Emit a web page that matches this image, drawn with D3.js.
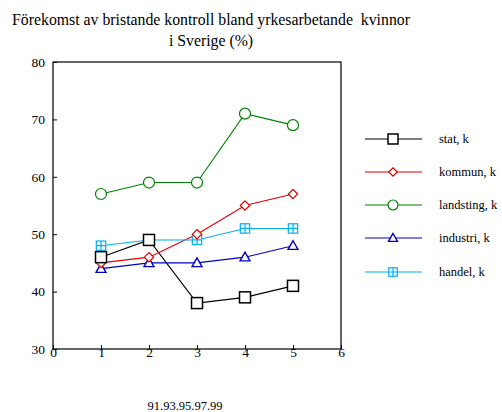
<!DOCTYPE html>
<html>
<head>
<meta charset="utf-8">
<script src="https://cdn.jsdelivr.net/npm/d3@7"></script>
<style>
  body { margin: 0; background: #fff; }
</style>
</head>
<body>
<div id="graph"></div>
<script>
// Data
var years = [1, 2, 3, 4, 5];
var stat = [46, 49, 38, 39, 41];
var kommun = [45, 46, 50, 55, 57];
var landsting = [57, 59, 59, 71, 69];
var industri = [44, 45, 45, 46, 48];
var handel = [48, 49, 49, 51, 51];
var seriesNames = ["stat, k", "kommun, k", "landsting, k", "industri, k", "handel, k"];
var xTicks = [0, 1, 2, 3, 4, 5, 6];
var yTicks = [30, 40, 50, 60, 70, 80];

var colors = ["#000000", "#e00000", "#008000", "#0000c0", "#00b0f0"];
var shapes = ["square", "diamond", "circle", "triangle", "boxplus"];
var allSeries = [stat, kommun, landsting, industri, handel];

var FONT = "Liberation Serif";
var width = 502, height = 412;
var plot = { left: 53, right: 341, top: 62, bottom: 349 };

var svg = d3.select("#graph").append("svg")
    .attr("width", width)
    .attr("height", height)
    .attr("font-family", FONT);

// Title
svg.append("text").attr("x", 211).attr("y", 25).attr("text-anchor", "middle")
   .attr("font-family", FONT).attr("font-size", 15.8)
   .style("white-space", "pre")
   .text("Förekomst av bristande kontroll bland yrkesarbetande  kvinnor");
svg.append("text").attr("x", 211).attr("y", 46).attr("text-anchor", "middle")
   .attr("font-family", FONT).attr("font-size", 15.8).text("i Sverige (%)");

var x = d3.scaleLinear().domain([0, 6]).range([plot.left, plot.right]);
var y = d3.scaleLinear().domain([30, 80]).range([plot.bottom, plot.top]);

// Frame
svg.append("rect")
   .attr("x", plot.left).attr("y", plot.top)
   .attr("width", plot.right - plot.left).attr("height", plot.bottom - plot.top)
   .attr("fill", "none").attr("stroke", "#000").attr("stroke-width", 1.2);

// Axes (ticks pointing inward)
var xAxis = svg.append("g")
   .attr("transform", "translate(0," + plot.bottom + ")")
   .call(d3.axisBottom(x).tickValues(xTicks).tickSize(-4).tickPadding(3).tickFormat(d3.format("d")));
var yAxis = svg.append("g")
   .attr("transform", "translate(" + plot.left + ",0)")
   .call(d3.axisLeft(y).tickValues(yTicks).tickSize(-4).tickPadding(8).tickFormat(d3.format("d")));

[xAxis, yAxis].forEach(function(ax) {
    ax.attr("font-family", FONT);
    ax.select(".domain").remove();
    ax.selectAll("text").attr("font-family", FONT)
      .attr("font-size", 13.5).attr("fill", "#000");
    ax.selectAll("line").attr("stroke", "#000");
});
xAxis.selectAll("text").attr("dy", "0.35em");

function drawMarker(g, shape, cx, cy, color, s) {
    if (shape === "square") {
        g.append("rect").attr("x", cx - s).attr("y", cy - s).attr("width", 2 * s).attr("height", 2 * s)
         .attr("fill", "#fff").attr("stroke", color).attr("stroke-width", 1.5);
    } else if (shape === "diamond") {
        var d = s * 0.85;
        g.append("path").attr("d", "M" + cx + "," + (cy - d) + "L" + (cx + d) + "," + cy + "L" + cx + "," + (cy + d) + "L" + (cx - d) + "," + cy + "Z")
         .attr("fill", "#fff").attr("stroke", color).attr("stroke-width", 1.2);
    } else if (shape === "circle") {
        g.append("circle").attr("cx", cx).attr("cy", cy).attr("r", s)
         .attr("fill", "#fff").attr("stroke", color).attr("stroke-width", 1.2);
    } else if (shape === "triangle") {
        var t = s * 0.9;
        g.append("path").attr("d", "M" + cx + "," + (cy - t) + "L" + (cx + t) + "," + (cy + t * 0.75) + "L" + (cx - t) + "," + (cy + t * 0.75) + "Z")
         .attr("fill", "#fff").attr("stroke", color).attr("stroke-width", 1.4);
    } else if (shape === "boxplus") {
        var b = s * 0.85;
        g.append("rect").attr("x", cx - b).attr("y", cy - b).attr("width", 2 * b).attr("height", 2 * b)
         .attr("fill", "#fff").attr("stroke", color).attr("stroke-width", 1.2);
        g.append("path").attr("d", "M" + (cx - b) + "," + cy + "H" + (cx + b) + "M" + cx + "," + (cy - b) + "V" + (cy + b))
         .attr("stroke", color).attr("stroke-width", 1.2);
    }
}

var line = d3.line()
    .x(function(d, i) { return x(years[i]); })
    .y(function(d) { return y(d); });

// Lines first, then markers on top (first series drawn last so it sits on top)
allSeries.forEach(function(values, k) {
    svg.append("path")
       .datum(values)
       .attr("fill", "none")
       .attr("stroke", colors[k])
       .attr("stroke-width", 1.1)
       .attr("d", line);
});
for (var k = allSeries.length - 1; k >= 0; k--) {
    var g = svg.append("g");
    allSeries[k].forEach(function(v, i) {
        drawMarker(g, shapes[k], x(years[i]), y(v), colors[k], 5.5);
    });
}

// Legend
var legendY = [139, 172, 205, 238, 272];
seriesNames.forEach(function(name, k) {
    var g = svg.append("g");
    g.append("line").attr("x1", 365).attr("x2", 422).attr("y1", legendY[k]).attr("y2", legendY[k])
     .attr("stroke", colors[k]).attr("stroke-width", 1.1);
    drawMarker(g, shapes[k], 393, legendY[k], colors[k], 5);
    g.append("text").attr("x", 439).attr("y", legendY[k]).attr("dy", "0.35em")
     .attr("font-family", FONT).attr("font-size", 12.5).text(name);
});

// Footer
svg.append("text").attr("x", 185).attr("y", 410).attr("text-anchor", "middle")
   .attr("font-family", FONT).attr("font-size", 12.5).text("91.93.95.97.99");
</script>
</body>
</html>
